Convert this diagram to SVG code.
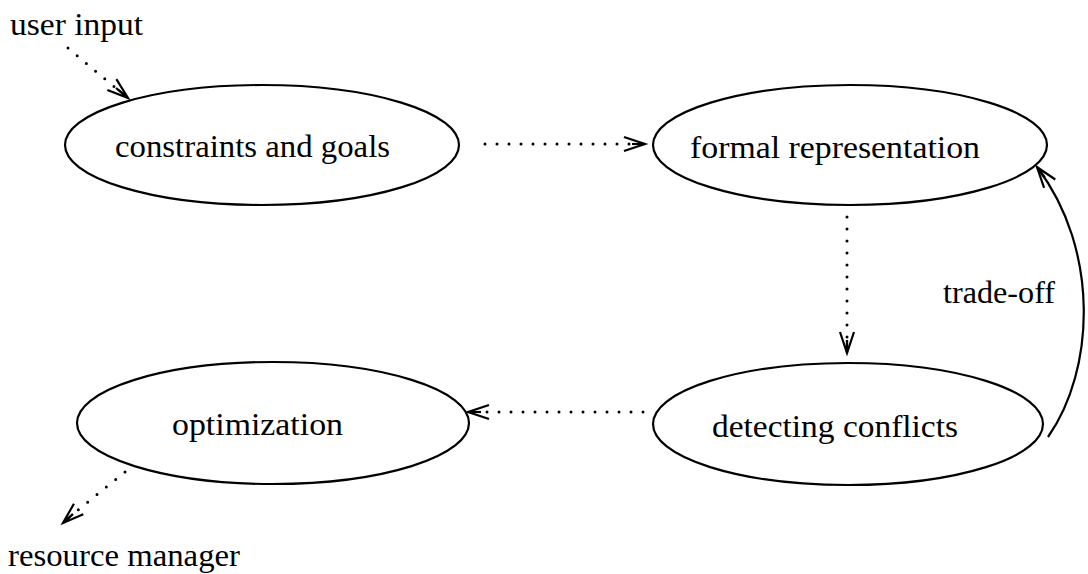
<svg xmlns="http://www.w3.org/2000/svg" width="1088" height="574" viewBox="0 0 1088 574">
<style>
text{font-family:"Liberation Serif","Times New Roman",serif;font-size:32px;fill:#000}
.node ellipse{fill:none;stroke:#000;stroke-width:2.2}
.dot{fill:none;stroke:#000;stroke-width:3;stroke-linecap:round;stroke-dasharray:0 12}
.solid{fill:none;stroke:#000;stroke-width:2.2}
</style>
<defs>
<marker id="ah" markerUnits="userSpaceOnUse" viewBox="-24 -10 28 20" refX="0" refY="0" markerWidth="28" markerHeight="20" orient="auto">
<path d="M-21,-7 L0,0 L-21,7 M-13,0 L0,0" fill="none" stroke="#000" stroke-width="2.2"/>
</marker>
</defs>
<rect width="1088" height="574" fill="#fff"/>
<g id="node-constraints" class="node">
<ellipse cx="262" cy="145" rx="197" ry="60"/>
<text x="115" y="157" textLength="275" lengthAdjust="spacingAndGlyphs">constraints and goals</text>
</g>
<g id="node-formal" class="node">
<ellipse cx="850" cy="145" rx="197" ry="60"/>
<text x="690" y="158" textLength="290" lengthAdjust="spacingAndGlyphs">formal representation</text>
</g>
<g id="node-detecting" class="node">
<ellipse cx="848" cy="424" rx="195" ry="61"/>
<text x="712" y="437" textLength="246" lengthAdjust="spacingAndGlyphs">detecting conflicts</text>
</g>
<g id="node-optimization" class="node">
<ellipse cx="273" cy="423" rx="196" ry="61"/>
<text x="172" y="435" textLength="171" lengthAdjust="spacingAndGlyphs">optimization</text>
</g>
<g id="labels">
<text x="10" y="35" textLength="133" lengthAdjust="spacingAndGlyphs">user input</text>
<text x="8" y="566" textLength="232" lengthAdjust="spacingAndGlyphs">resource manager</text>
<text x="943" y="303" textLength="112" lengthAdjust="spacingAndGlyphs">trade-off</text>
</g>
<g id="connectors">
<path class="dot" d="M68,48 L118,90"/>
<path class="solid" d="M116,88 L128,98" marker-end="url(#ah)"/>
<path class="dot" d="M485,144 L630,144"/>
<path class="solid" d="M632,144 L645,144" marker-end="url(#ah)"/>
<path class="dot" d="M847,217 L847,342"/>
<path class="solid" d="M847,340 L847,353" marker-end="url(#ah)"/>
<path class="dot" d="M643,412 L482,412"/>
<path class="solid" d="M481,412 L468,412" marker-end="url(#ah)"/>
<path class="dot" d="M125,472 L73,514"/>
<path class="solid" d="M73,514 L63,523" marker-end="url(#ah)"/>
<path class="solid" d="M1048,437 C1095,370 1100,250 1037,167" marker-end="url(#ah)"/>
</g>
</svg>
